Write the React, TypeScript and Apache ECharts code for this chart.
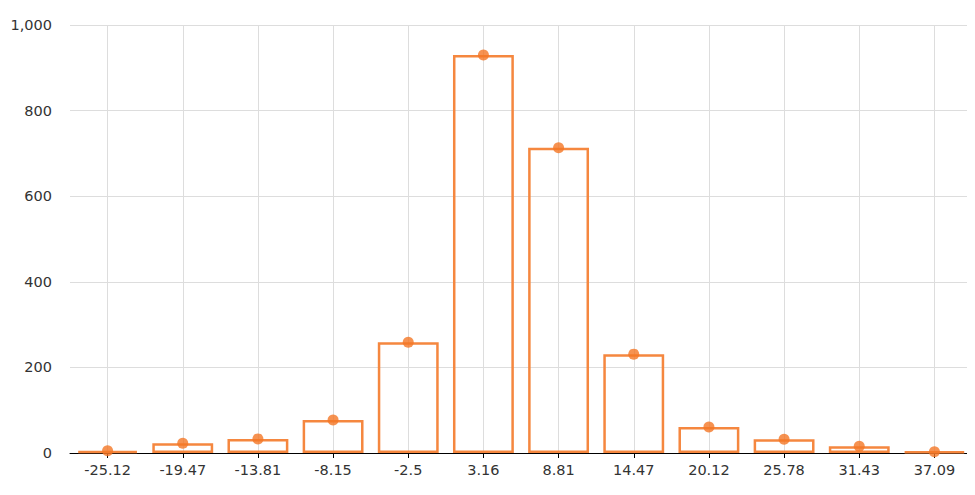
import React, { useEffect, useRef } from "react";
import * as echarts from "echarts";

const categories = ["-25.12", "-19.47", "-13.81", "-8.15", "-2.5", "3.16", "8.81", "14.47", "20.12", "25.78", "31.43", "37.09"];
const counts = [5, 23, 33, 77, 259, 930, 713, 231, 61, 32, 16, 3];
const yTicks = { min: 0, max: 1000, interval: 200 };

export default function App() {
  const ref = useRef<HTMLDivElement>(null);
  useEffect(() => {
    if (!ref.current) return;
    const chart = echarts.init(ref.current, null, { renderer: "svg" });
    const font = "'DejaVu Sans', Verdana, sans-serif";
    chart.setOption({
      animation: false,
      grid: { left: 70, right: 3, top: 25, bottom: 42, containLabel: false },
      xAxis: {
        type: "category",
        data: categories,
        boundaryGap: true,
        axisLine: { show: true, lineStyle: { color: "#000", width: 1 } },
        axisTick: { show: true, alignWithLabel: true, length: 5, lineStyle: { color: "#000" } },
        axisLabel: { color: "#333", fontSize: 14.5, fontFamily: font, margin: 9, interval: 0 },
        splitLine: { show: false },
      },
      yAxis: {
        type: "value",
        min: yTicks.min,
        max: yTicks.max,
        interval: yTicks.interval,
        axisLine: { show: false },
        axisTick: { show: false },
        axisLabel: {
          color: "#333",
          fontSize: 14.5,
          fontFamily: font,
          margin: 18,
          formatter: (v: number) => v.toLocaleString("en-US"),
        },
        splitLine: { show: true, lineStyle: { color: "#ddd", width: 1 } },
      },
      series: [
        {
          type: "line",
          data: [],
          z: 1,
          silent: true,
          markLine: {
            z: 1,
            silent: true,
            symbol: ["none", "none"],
            label: { show: false },
            lineStyle: { color: "#ddd", type: "solid", width: 1 },
            data: categories.map((c) => ({ xAxis: c })),
          },
        },
        {
          type: "bar",
          data: counts,
          barWidth: "81%",
          z: 2,
          itemStyle: { color: "rgba(255,255,255,0)", borderColor: "#f5873f", borderWidth: 2.5 },
        },
        {
          type: "scatter",
          data: counts,
          symbol: "circle",
          symbolSize: 11,
          z: 6,
          itemStyle: { color: "#f47726" },
        },
      ],
    });
    return () => chart.dispose();
  }, []);
  return <div ref={ref} style={{ width: 975, height: 495, margin: -8 }} />;
}
